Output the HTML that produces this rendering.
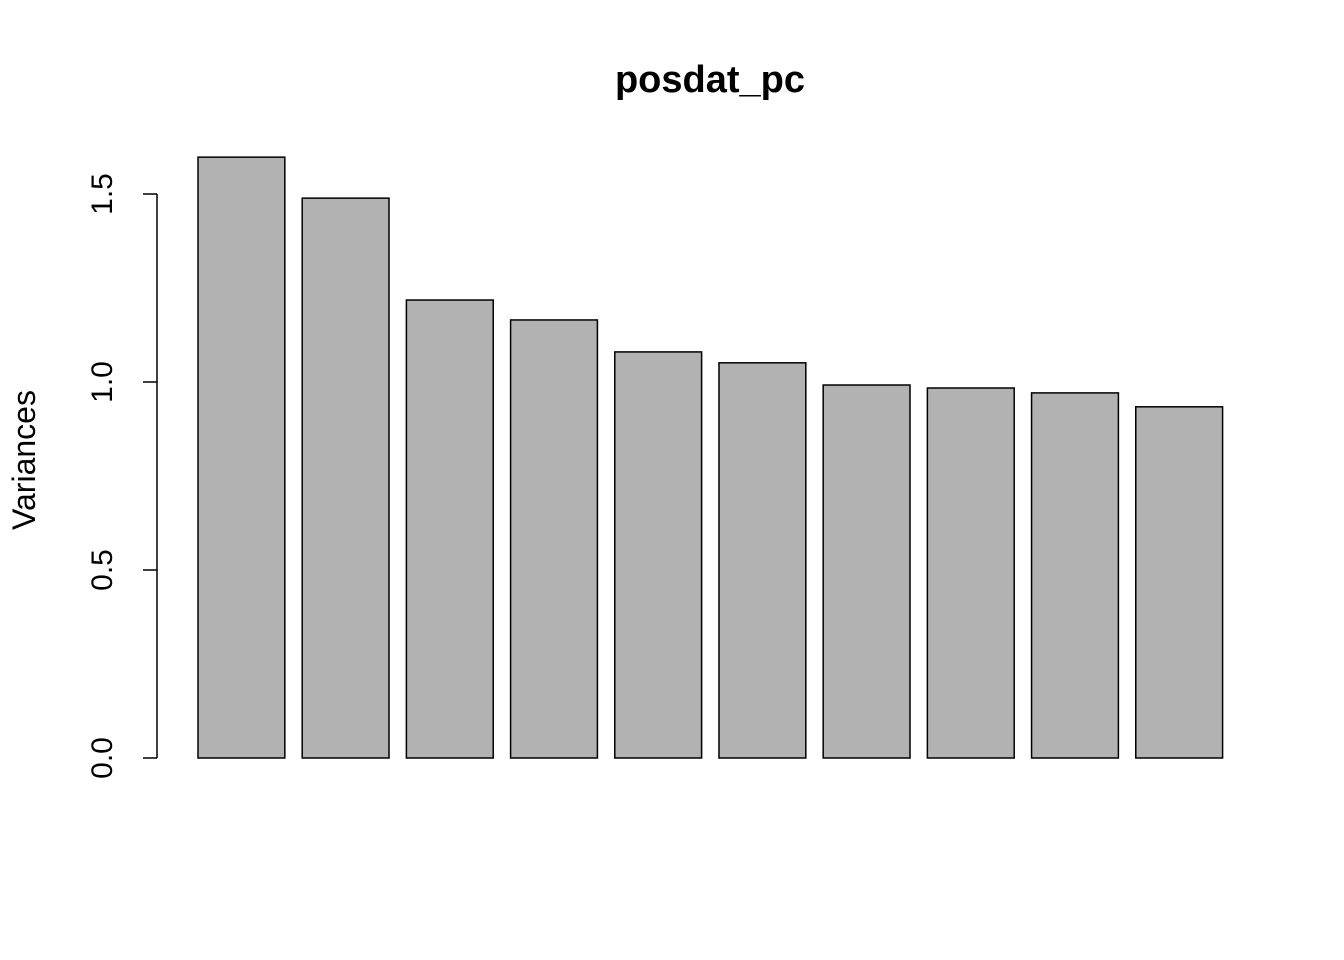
<!DOCTYPE html>
<html><head><meta charset="utf-8"><style>
html,body{margin:0;padding:0;background:#fff;}
svg{display:block;font-family:"Liberation Sans",sans-serif;}
</style></head><body>
<svg id="chart" width="1344" height="960">
<text x="710" y="92" text-anchor="middle" font-size="38" font-weight="bold">posdat_pc</text>
<text transform="translate(35,460) rotate(-90)" text-anchor="middle" font-size="32">Variances</text>
<g id="bars"></g>
<g id="yaxis"></g>
</svg>
<script>
const categories = ["PC1","PC2","PC3","PC4","PC5","PC6","PC7","PC8","PC9","PC10"];
const values = [1.598, 1.489, 1.218, 1.165, 1.080, 1.051, 0.992, 0.984, 0.971, 0.934];
const yTicks = [0, 0.5, 1, 1.5];
const yTickLabels = ["0.0","0.5","1.0","1.5"];

const NS = "http://www.w3.org/2000/svg";
function y(v){ return 758 - v * 376; }
function x(u){ return 198 + (u - 0.2) * 86.83; }

const bars = document.getElementById('bars');
categories.forEach((c, i) => {
  const left = 0.2 + 1.2 * i;
  const r = document.createElementNS(NS, 'rect');
  r.setAttribute('x', x(left));
  r.setAttribute('width', x(left + 1) - x(left));
  r.setAttribute('y', y(values[i]));
  r.setAttribute('height', y(0) - y(values[i]));
  r.setAttribute('fill', '#b2b2b2');
  r.setAttribute('stroke', '#000');
  r.setAttribute('stroke-width', '1.5');
  
  
  bars.appendChild(r);
});

const ax = document.getElementById('yaxis');
const line = document.createElementNS(NS, 'line');
line.setAttribute('x1', 157); line.setAttribute('x2', 157);
line.setAttribute('y1', y(yTicks[0])); line.setAttribute('y2', y(yTicks[yTicks.length - 1]));
line.setAttribute('stroke', '#000'); line.setAttribute('stroke-width', '1.5');


ax.appendChild(line);
yTicks.forEach((t, i) => {
  const tk = document.createElementNS(NS, 'line');
  tk.setAttribute('x1', 143); tk.setAttribute('x2', 157);
  tk.setAttribute('y1', y(t)); tk.setAttribute('y2', y(t));
  tk.setAttribute('stroke', '#000'); tk.setAttribute('stroke-width', '1.5');
  
  
  ax.appendChild(tk);
  const tx = document.createElementNS(NS, 'text');
  tx.setAttribute('transform', 'translate(112,' + y(t) + ') rotate(-90)');
  tx.setAttribute('text-anchor', 'middle');
  tx.setAttribute('font-size', '30');
  tx.textContent = yTickLabels[i];
  
  
  ax.appendChild(tx);
});
</script>
</body></html>
